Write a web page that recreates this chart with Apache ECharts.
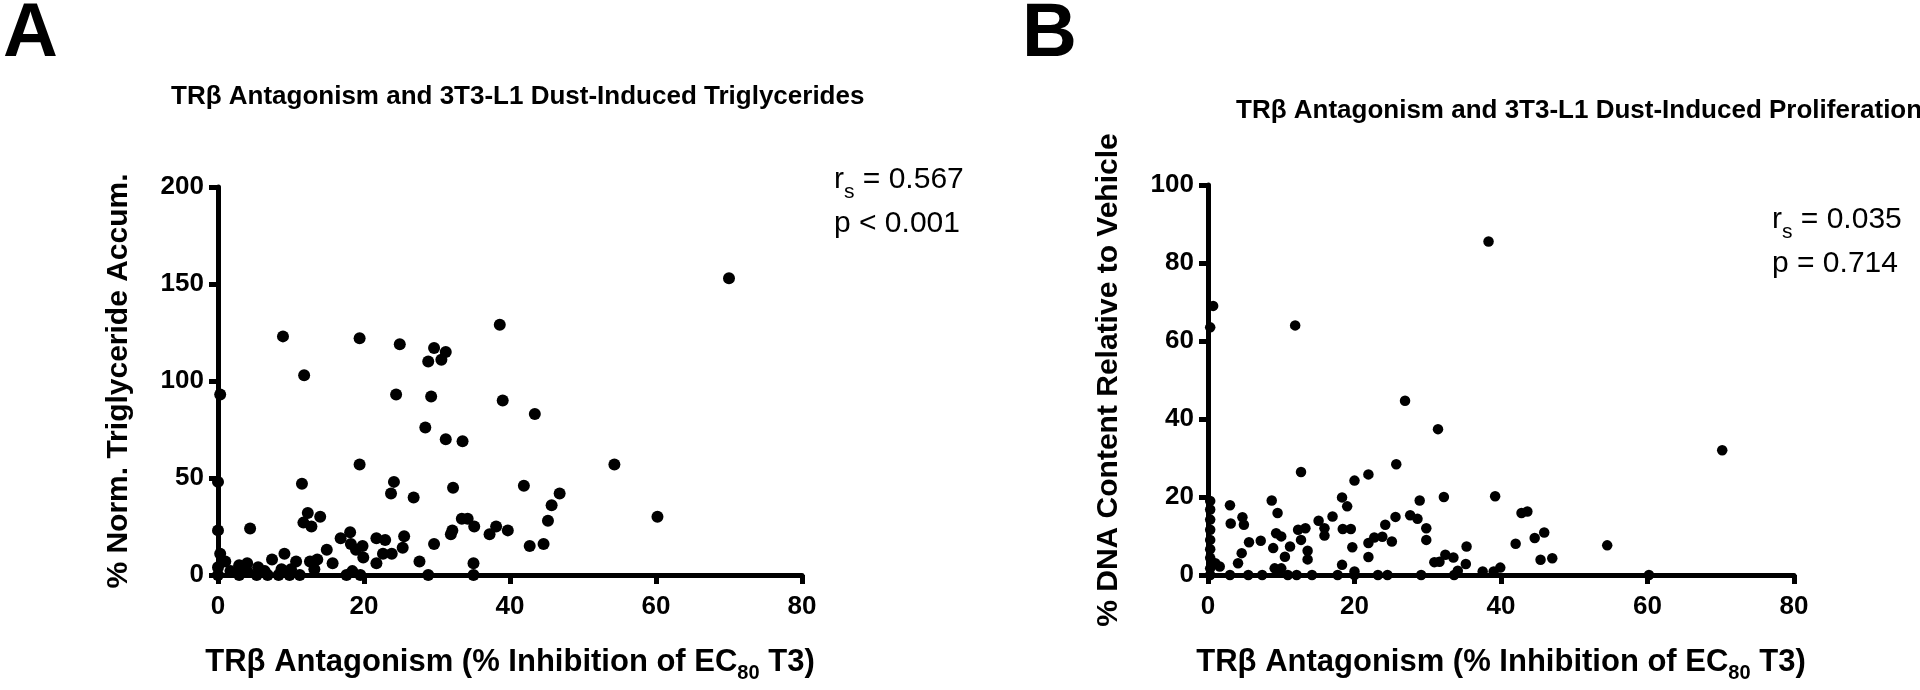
<!DOCTYPE html>
<html>
<head>
<meta charset="utf-8">
<title>TRβ Antagonism scatter</title>
<script src="https://cdn.jsdelivr.net/npm/echarts@6/dist/echarts.min.js"></script>
<style>
	html, body { margin: 0; padding: 0; background: #fff; }
	#chart { width: 1920px; height: 690px; }
</style>
</head>
<body>
<div id="chart"></div>
<script>
	// panel A: % inhibition vs % norm. triglyceride accum.
	const triglyPoints = [
		[8.9,123],[19.4,122],[24.9,119],[38.6,129],[29.6,117],[31.2,115],[28.8,110],[30.6,111],
		[11.8,103],[0.3,93],[24.4,93],[29.2,92],[39,90],[43.4,83],[28.4,76],[31.2,70],[33.5,69],
		[19.4,57],[54.3,57],[0,48],[11.5,47],[24.1,48],[23.7,42],[26.8,40],[32.2,45],[41.9,46],
		[46.8,42],[45.7,36],[45.2,28],[44.6,16],[42.7,15],[39.7,23],[38.1,25],[37.2,21],[35.1,25],
		[34.2,29],[33.4,29],[32.1,23],[31.9,21],[29.6,16],[35,6],[35,0],[28.8,0],[27.6,7],[25.5,20],
		[25.3,14],[23.8,11],[22.6,11],[21.7,6],[22.9,18],[21.7,19],[19.8,15],[19.9,9],[18.9,13],
		[18.2,16],[18.1,22],[16.8,19],[14.9,13],[15.7,6],[18.4,2],[17.6,0],[19.5,0],[14,30],[12.3,32],
		[11.7,27],[12.8,25],[4.4,24],[0,23],[13.6,8],[12.6,7],[13.2,3],[10.7,7],[9.1,11],[7.4,8],
		[8.7,3],[10,3],[11.2,0],[9.8,0],[8.3,0],[6.8,0],[5.5,4],[5.3,0],[4,6],[2.9,5],[2.9,0],[4,2],
		[1,7],[0.3,11],[0,4],[0,0],[6.4,2],[1.7,2],[70,153],[60.2,30]
	]
	// panel B: % inhibition vs % DNA content
	const dnaPoints = [
		[38.3,85.5],[0.7,69],[0.3,63.5],[11.9,64],[26.9,44.7],[31.4,37.4],[54.5,7.6],[25.7,28.4],
		[21.9,25.8],[20,24.2],[12.7,26.4],[32.2,20],[39.2,20.2],[28.9,19.1],[18.3,19.9],[19,17.6],
		[8.7,19.1],[3,17.9],[0.3,19],[0.3,16.8],[9.5,15.9],[4.7,14.8],[4.9,12.9],[3.1,13.2],[15.1,13.9],
		[17,15],[15.9,12],[15.9,10.1],[13.3,12],[12.3,11.6],[12.7,9],[13.6,6.2],[13.6,4],[11.2,7.3],
		[10.5,4.7],[10,9.9],[9.3,10.7],[8.9,6.9],[7.2,8.8],[5.6,8.4],[4.6,5.6],[4.1,3],[9.1,1.7],
		[10,1.7],[18.4,11.8],[19.5,11.8],[19.7,7.1],[18.3,2.6],[21.9,8.2],[21.9,4.6],[22.7,9.6],
		[23.8,9.8],[25.1,8.6],[24.2,12.9],[25.6,14.9],[27.6,15.3],[28.6,14.4],[29.8,12],[29.8,9],
		[30.9,3.3],[31.6,3.4],[32.4,5.2],[33.5,4.5],[35.3,7.3],[35.2,2.8],[34.1,1.1],[42,8],[42.8,15.9],
		[43.6,16.3],[44.6,9.5],[45.9,10.9],[45.4,3.9],[47,4.3],[39.9,1.9],[39,0.9],[37.5,0.9],[29.1,0],
		[33.6,0],[24.5,0],[23.2,0],[20,0.9],[20,0],[17.7,0],[14.2,0],[12.1,0],[10.9,0],[9.6,1.3],
		[7.4,0],[5.5,0],[3,0],[0.3,0],[0.3,14.2],[0.3,11.6],[0.3,9],[0.3,6.6],[0.3,4.4],[1,3],[0.3,1.7],
		[1.6,2.2],[70.2,32],[60.2,0]
	]
	const panelTitles = ['TRβ Antagonism and 3T3-L1 Dust-Induced Triglycerides', 'TRβ Antagonism and 3T3-L1 Dust-Induced Proliferation']
	const yNames = ['% Norm. Triglyceride Accum.', '% DNA Content Relative to Vehicle']
	const xName = 'TRβ Antagonism (% Inhibition of EC{sub|80} T3)'
	const statsA = ['r{sub|s} = 0.567', 'p < 0.001']
	const statsB = ['r{sub|s} = 0.035', 'p = 0.714']
	const yRanges = [[0, 200, 50], [0, 100, 20]]

	const bold = "'Liberation Sans', Arial, sans-serif"
	const plain = "'Liberation Sans', Arial, sans-serif"

	const chart = echarts.init(document.getElementById('chart'))

	const xAxisOf = (idx) => ({
		gridIndex: idx, type: 'value', min: 0, max: 80, interval: 20,
		name: xName, nameLocation: 'middle', nameGap: 66,
		nameTextStyle: {
			color: '#000', fontSize: 31, fontWeight: 'bold', fontFamily: bold,
			rich: { sub: { fontSize: 20, fontWeight: 'bold', fontFamily: bold, color: '#000', padding: [22, 0, 0, 0] } }
		},
		axisLine: { lineStyle: { color: '#000', width: 5 } },
		axisTick: { length: 9, lineStyle: { color: '#000', width: 5 } },
		axisLabel: { color: '#000', fontSize: 26, fontWeight: 'bold', fontFamily: bold, margin: 19 },
		splitLine: { show: false }
	})
	const yAxisOf = (idx) => ({
		gridIndex: idx, type: 'value', min: yRanges[idx][0], max: yRanges[idx][1], interval: yRanges[idx][2],
		name: yNames[idx], nameLocation: 'middle', nameGap: 84,
		nameTextStyle: { color: '#000', fontSize: 30, fontWeight: 'bold', fontFamily: bold },
		axisLine: { lineStyle: { color: '#000', width: 5 } },
		axisTick: { length: 9, lineStyle: { color: '#000', width: 5 } },
		axisLabel: { color: '#000', fontSize: 26, fontWeight: 'bold', fontFamily: bold, margin: 14 },
		splitLine: { show: false }
	})
	const statText = (lines, x, y) => ({
		type: 'text', left: x, top: y,
		style: {
			text: lines.join('\n'), fill: '#000', fontSize: 30, fontFamily: plain, lineHeight: 44,
			rich: { sub: { fontSize: 21, fontFamily: plain, fill: '#000', padding: [24, 0, 0, 0] } }
		}
	})

	const option = {
		backgroundColor: '#fff',
		animation: false,
		title: [
			{ text: 'A', left: 3, top: -3, padding: 0, textStyle: { fontSize: 76, fontWeight: 'bold', fontFamily: plain, color: '#000' } },
			{ text: panelTitles[0], left: 171, top: 84, padding: 0, textStyle: { fontSize: 26, fontWeight: 'bold', fontFamily: bold, color: '#000' } },
			{ text: 'B', left: 1022, top: -3, padding: 0, textStyle: { fontSize: 76, fontWeight: 'bold', fontFamily: plain, color: '#000' } },
			{ text: panelTitles[1], left: 1236, top: 98, padding: 0, textStyle: { fontSize: 26, fontWeight: 'bold', fontFamily: bold, color: '#000' } }
		],
		grid: [
			{ left: 218, top: 187, width: 584, height: 388 },
			{ left: 1208, top: 185, width: 586, height: 390 }
		],
		xAxis: [xAxisOf(0), xAxisOf(1)],
		yAxis: [yAxisOf(0), yAxisOf(1)],
		series: [
			{ type: 'scatter', xAxisIndex: 0, yAxisIndex: 0, data: triglyPoints, symbolSize: 12, clip: false, itemStyle: { color: '#000', opacity: 1 } },
			{ type: 'scatter', xAxisIndex: 1, yAxisIndex: 1, data: dnaPoints, symbolSize: 10.5, clip: false, itemStyle: { color: '#000', opacity: 1 } }
		],
		graphic: [
			statText(statsA, 834, 158),
			statText(statsB, 1772, 198)
		]
	}
	chart.setOption(option)
</script>
</body>
</html>
